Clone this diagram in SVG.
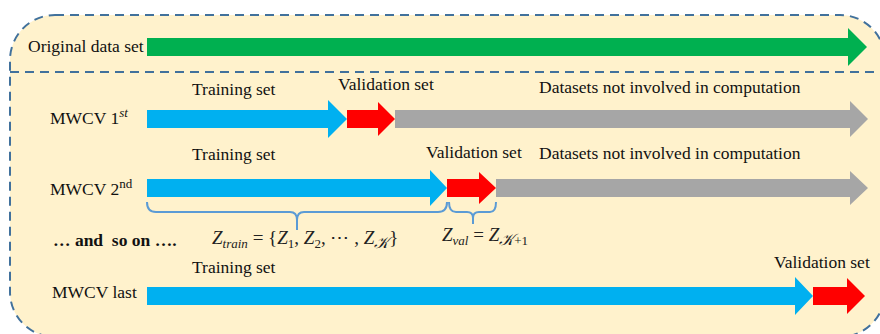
<svg xmlns="http://www.w3.org/2000/svg" width="880" height="334" viewBox="0 0 880 334">
<style>
.t{font-family:"Liberation Serif","Times New Roman",serif;font-size:17.5px;fill:#111}
.m{font-family:"Liberation Serif","DejaVu Serif",serif;font-size:19px;font-style:italic;fill:#222}
.s{font-size:13px}
.k{font-size:16px}
.up{font-style:normal}
.brace{fill:none;stroke:#5B9BD5;stroke-width:2}
.dash{stroke:#41719C;stroke-width:2;stroke-dasharray:9 6}
.green{fill:#00B050}.blue{fill:#00B0F0}.red{fill:#FF0000}.gray{fill:#A6A6A6}
</style>
<g id="frame">
<rect x="10" y="15" width="875" height="322" rx="45" fill="#FFF2CC" class="dash"/>
<line x1="10" y1="72" x2="885" y2="72" fill="none" class="dash"/>
</g>
<g id="original">
<text x="28" y="52" class="t">Original data set</text>
<polygon class="green" points="147,38 848,38 848,28 867,47 848,66 848,56 147,56"/>
</g>
<g id="mwcv1">
<text x="50" y="124" class="t">MWCV 1<tspan font-style="italic" font-size="13" dy="-7">st</tspan></text>
<text x="192" y="95" class="t">Training set</text>
<text x="338" y="90" class="t">Validation set</text>
<text x="539" y="93" class="t">Datasets not involved in computation</text>
<polygon class="gray" points="395,110 850,110 850,101 868,119 850,137 850,128 395,128"/>
<polygon class="red" points="347,110 378,110 378,102 395,119 378,136 378,128 347,128"/>
<polygon class="blue" points="147,110 328,110 328,100 347,119 328,138 328,128 147,128"/>
</g>
<g id="mwcv2">
<text x="50" y="195" class="t">MWCV 2<tspan font-size="13" dy="-7">nd</tspan></text>
<text x="192" y="160" class="t">Training set</text>
<text x="426" y="158" class="t">Validation set</text>
<text x="539" y="159" class="t">Datasets not involved in computation</text>
<polygon class="gray" points="496,179 850,179 850,171 868,188 850,205 850,197 496,197"/>
<polygon class="red" points="447,179 479,179 479,172 496,188 479,204 479,197 447,197"/>
<polygon class="blue" points="147,179 430,179 430,170 447,188 430,206 430,197 147,197"/>
</g>
<g id="connectors">
<path class="brace" d="M147,202 Q147,212 156,212 H290 Q297,212 297,220 V230 M297,220 Q297,212 304,212 H438 Q447,212 447,202"/>
<path class="brace" d="M449,202 Q449,212 456,212 H467 Q473,212 473,218 V224 M473,218 Q473,212 479,212 H490 Q496,212 496,202"/>
</g>
<g id="ztrain">
<text x="212" y="244" class="m">Z<tspan class="s" dy="4">train</tspan><tspan class="up" dy="-4"> = {</tspan>Z<tspan class="up s" dy="4">1</tspan><tspan class="up" dy="-4">, </tspan>Z<tspan class="up s" dy="4">2</tspan><tspan class="up" dy="-4">, ⋯ , </tspan>Z<tspan class="k" dy="4">𝒦</tspan><tspan class="up" dy="-4">}</tspan></text>
</g>
<g id="zval">
<text x="442" y="241" class="m">Z<tspan class="s" dy="4">val</tspan><tspan class="up" dy="-4"> = </tspan>Z<tspan class="k" dy="4">𝒦<tspan class="up s">+1</tspan></tspan></text>
</g>
<g id="andso">
<text x="53" y="246" class="t" font-weight="bold" xml:space="preserve">… and  so on ….</text>
</g>
<g id="mwcvlast">
<text x="52" y="298" class="t">MWCV last</text>
<text x="192" y="273" class="t">Training set</text>
<text x="774" y="268" class="t">Validation set</text>
<polygon class="red" points="813,287 847,287 847,278 865,296 847,314 847,305 813,305"/>
<polygon class="blue" points="147,287 795,287 795,277 813,296 795,315 795,305 147,305"/>
</g>
</svg>
